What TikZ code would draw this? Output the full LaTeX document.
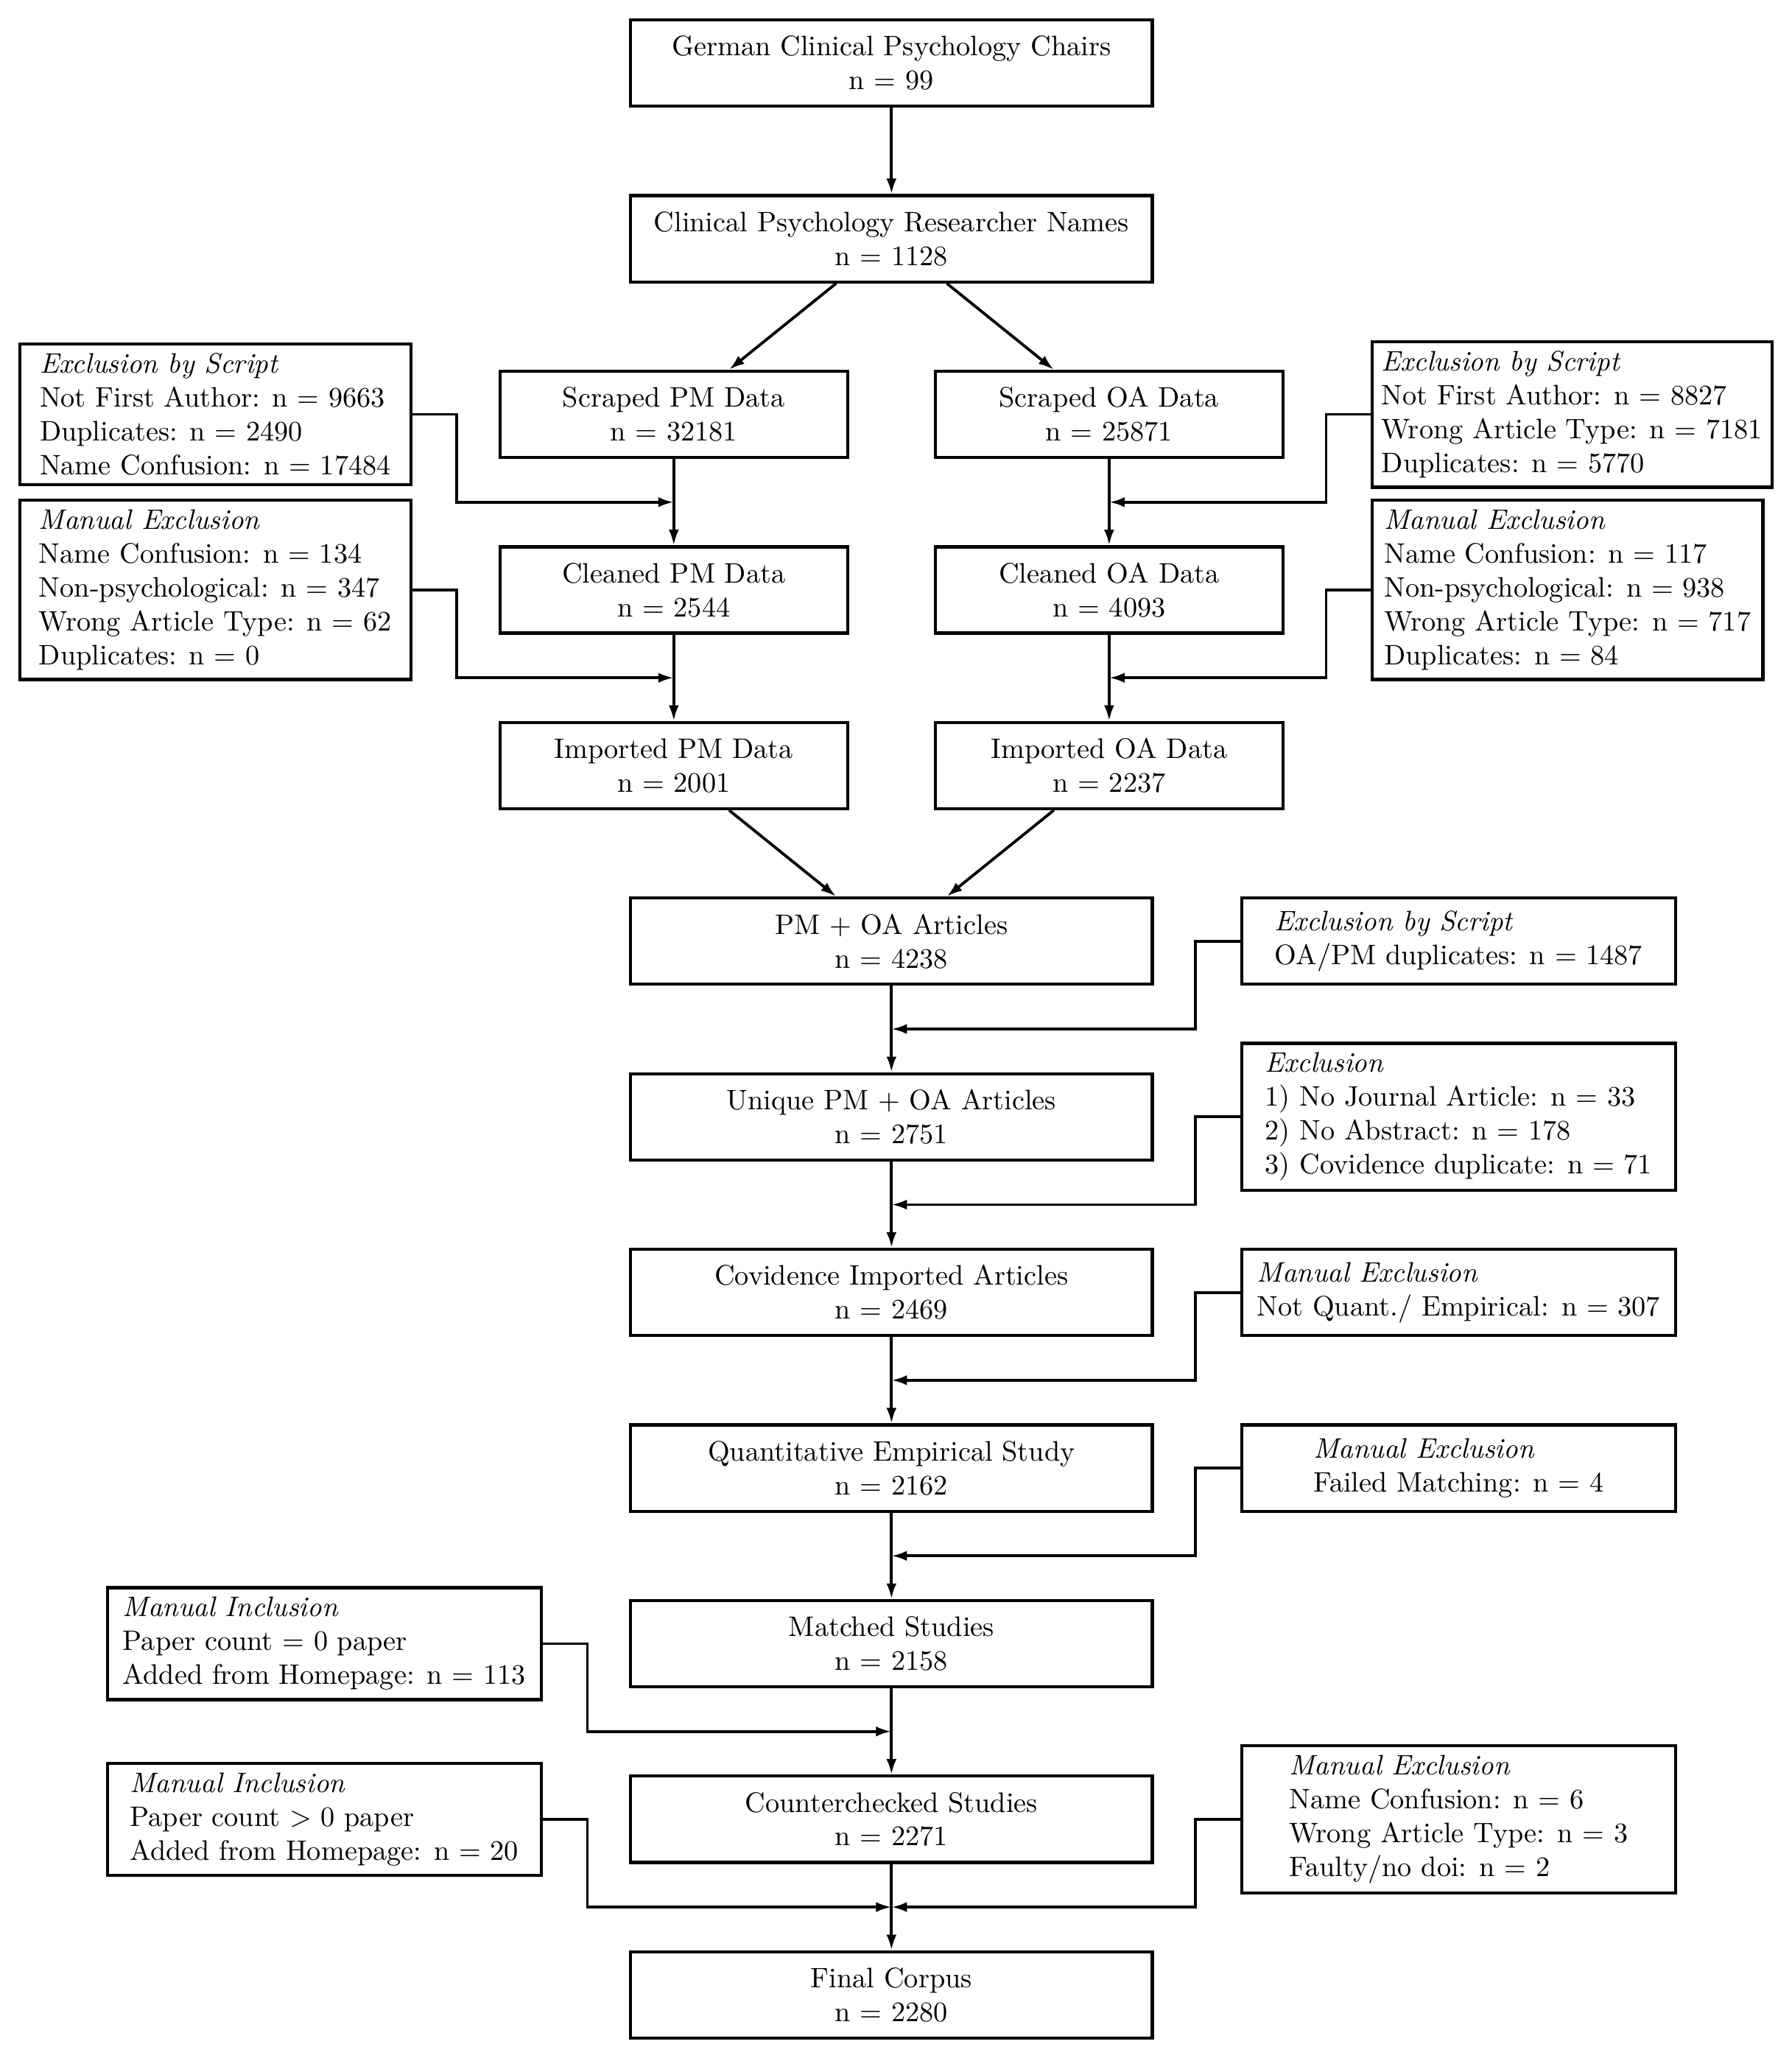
\documentclass[tikz,border=0pt]{standalone}
\usetikzlibrary{positioning, arrows.meta}
\begin{document}
\begin{tikzpicture}[->, >={Latex[length=5.5pt,width=3.6pt]}, line width=1pt, node distance=1.075cm,
		flow/.style={draw, line width=1.1pt, minimum width=6.5cm, minimum height=1.075cm, align=center},
		half/.style={flow, minimum width=4.33cm},
		note/.style={draw, line width=1.1pt, minimum width=4.87cm, minimum height=1.075cm, align=left},
		wide/.style={note, minimum width=5.41cm}]
			\node (1) [flow] {German Clinical Psychology Chairs\\n = 99};
			\node (2) [flow, below=of 1] {Clinical Psychology Researcher Names\\n = 1128};
			\node (3) [half, below=of 2, xshift=-2.713cm] {Scraped PM Data\\n = 32181};
			\node (4) [half, below=of 2, xshift=2.713cm] {Scraped OA Data\\n = 25871};
			\node (5) [half, below=of 3] {Cleaned PM Data\\n = 2544};
			\node (6) [half, below=of 4] {Cleaned OA Data\\n = 4093};
			\node (7) [half, below=of 5] {Imported PM Data\\n = 2001};
			\node (8) [half, below=of 6] {Imported OA Data\\n = 2237};
			\node (9) [flow, below=of 7, xshift=2.713cm] {PM + OA Articles\\n = 4238};
			\node (10) [flow, below=of 9] {Unique PM + OA Articles\\n = 2751};
			\node (11) [flow, below=of 10] {Covidence Imported Articles\\n = 2469};
			\node (12) [flow, below=of 11] {Quantitative Empirical Study\\n = 2162};
			\node (13) [flow, below=of 12] {Matched Studies\\n = 2158};
			\node (14) [flow, below=of 13] {Counterchecked Studies\\n = 2271};
			\node (15) [flow, below=of 14] {Final Corpus\\n = 2280};
			\node (x1) [note, left=of 3] {\textit{Exclusion by Script}\\Not First Author: n = 9663\\Duplicates: n = 2490\\Name Confusion: n = 17484};
			\node (x2) [note, left=of 5] {\textit{Manual Exclusion}\\Name Confusion: n = 134\\Non-psychological: n = 347\\Wrong Article Type: n = 62\\Duplicates: n = 0};
			\node (x3) [note, right=of 4] {\textit{Exclusion by Script}\\Not First Author: n = 8827\\Wrong Article Type: n = 7181\\Duplicates: n = 5770};
			\node (x4) [note, right=of 6] {\textit{Manual Exclusion}\\Name Confusion: n = 117\\Non-psychological: n = 938\\Wrong Article Type: n = 717\\Duplicates: n = 84};
			\node (x5) [wide, right=of 9] {\textit{Exclusion by Script}\\OA/PM duplicates: n = 1487};
			\node (x6) [wide, right=of 10] {\textit{Exclusion}\\1) No Journal Article: n = 33\\2) No Abstract: n = 178\\3) Covidence duplicate: n = 71};
			\node (x7) [wide, right=of 11] {\textit{Manual Exclusion}\\Not Quant./ Empirical: n = 307};
			\node (x8) [wide, right=of 12] {\textit{Manual Exclusion}\\Failed Matching: n = 4};
			\node (x9) [wide, left=of 13] {\textit{Manual Inclusion}\\Paper count = 0 paper\\Added from Homepage: n = 113};
			\node (x10) [wide, left=of 14] {\textit{Manual Inclusion}\\Paper count $>$ 0 paper\\Added from Homepage: n = 20};
			\node (x11) [wide, right=of 14] {\textit{Manual Exclusion}\\Name Confusion: n = 6\\Wrong Article Type: n = 3\\Faulty/no doi: n = 2};
			\path (3) -- coordinate (j1) (5);
			\path (5) -- coordinate (j2) (7);
			\path (4) -- coordinate (j3) (6);
			\path (6) -- coordinate (j4) (8);
			\path (9) -- coordinate (j5) (10);
			\path (10) -- coordinate (j6) (11);
			\path (11) -- coordinate (j7) (12);
			\path (12) -- coordinate (j8) (13);
			\path (13) -- coordinate (j9) (14);
			\path (14) -- coordinate (j10) (15);
			\path
			(1) edge node {} (2)
			(2) edge node {} (3)
			(2) edge node {} (4)
			(3) edge node {} (5)
			(5) edge node {} (7)
			(4) edge node {} (6)
			(6) edge node {} (8)
			(7) edge node {} (9)
			(8) edge node {} (9)
			(9) edge node {} (10)
			(10) edge node {} (11)
			(11) edge node {} (12)
			(12) edge node {} (13)
			(13) edge node {} (14)
			(14) edge node {} (15);
			\draw (x1.east) -- ++(0.555,0) |- (j1);
			\draw (x2.east) -- ++(0.555,0) |- (j2);
			\draw (x3.west) -- ++(-0.555,0) |- (j3);
			\draw (x4.west) -- ++(-0.555,0) |- (j4);
			\draw (x5.west) -- ++(-0.555,0) |- (j5);
			\draw (x6.west) -- ++(-0.555,0) |- (j6);
			\draw (x7.west) -- ++(-0.555,0) |- (j7);
			\draw (x8.west) -- ++(-0.555,0) |- (j8);
			\draw (x9.east) -- ++(0.555,0) |- (j9);
			\draw (x10.east) -- ++(0.555,0) |- (j10);
			\draw (x11.west) -- ++(-0.555,0) |- (j10);
			\path ([shift={(-0.23,0.23)}]current bounding box.north west) ([shift={(0.23,-0.23)}]current bounding box.south east);
		\end{tikzpicture}
\end{document}
